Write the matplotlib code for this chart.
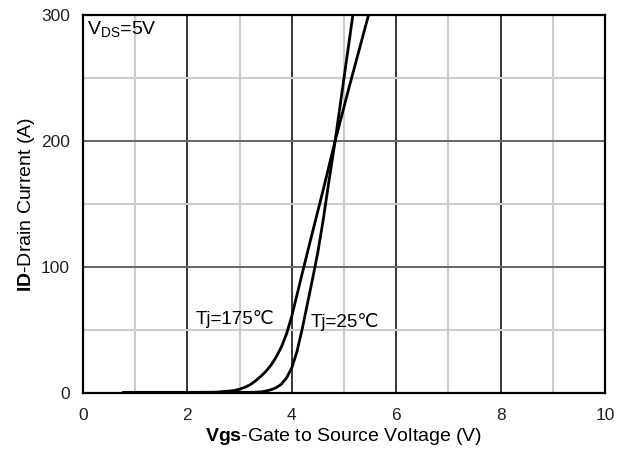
import numpy as np
import matplotlib.pyplot as plt
from matplotlib.ticker import MultipleLocator

plt.rcParams['font.family'] = ['Liberation Sans', 'DejaVu Sans']
plt.rcParams['mathtext.fontset'] = 'custom'
plt.rcParams['mathtext.rm'] = 'Liberation Sans'
plt.rcParams['mathtext.bf'] = 'Liberation Sans:bold'

# transfer characteristics, VDS = 5 V
vgs_175 = [0.77, 2.0, 2.5, 2.6, 2.8, 2.9, 3.0, 3.1, 3.2, 3.3, 3.4, 3.5,
           3.6, 3.7, 3.8, 3.9, 4.0, 4.1, 4.2, 4.35, 4.6, 4.83, 5.1, 5.47]
id_175 = [0.5, 0.5, 0.6, 0.8, 1.5, 2, 3, 4.5, 6.5, 9.5, 13, 17,
          22, 28.5, 36.5, 47, 61, 78, 95, 120, 161, 200, 243, 300]

vgs_25 = [0.77, 2.5, 3.2, 3.3, 3.43, 3.5, 3.6, 3.7, 3.8, 3.9, 4.0, 4.1,
          4.2, 4.3, 4.4, 4.5, 4.6, 4.7, 4.83, 5.0, 5.17]
id_25 = [0.5, 0.5, 0.5, 0.6, 1, 1.5, 2.6, 4.2, 7, 12, 20, 33,
         51, 71, 91, 112, 137, 165, 200, 250, 300]

x_ticks = [0, 2, 4, 6, 8, 10]
y_ticks = [0, 100, 200, 300]

fig = plt.figure(figsize=(6.25, 4.51), dpi=100)
ax = fig.add_axes([0.1328, 0.1286, 0.8352, 0.8381])

ax.set_xlim(0, 10)
ax.set_ylim(0, 300)
ax.set_xticks(x_ticks)
ax.set_yticks(y_ticks)
ax.xaxis.set_minor_locator(MultipleLocator(1))
ax.yaxis.set_minor_locator(MultipleLocator(50))

ax.grid(True, which='minor', color='#cccccc', lw=1.5)
ax.grid(True, which='major', axis='x', color='black', lw=1.1)
ax.grid(True, which='major', axis='y', color='#666666', lw=1.4)
ax.set_axisbelow(True)

ax.tick_params(which='both', length=0, labelsize=12.5, labelcolor='#222222')
ax.tick_params(axis='x', pad=10.5)
ax.tick_params(axis='y', pad=9.5)
for s in ax.spines.values():
    s.set_linewidth(1.6)
    s.set_color('black')

ax.plot(vgs_175, id_175, color='black', lw=2.0, solid_capstyle='round')
ax.plot(vgs_25, id_25, color='black', lw=2.0, solid_capstyle='round')

ax.text(2.16, 59, 'Tj=175℃', fontsize=13.5, va='center', ha='left')
ax.text(4.37, 56, 'Tj=25℃', fontsize=13.5, va='center', ha='left')
ax.text(0.08, 288, r'V$_{\rm DS}$=5V', fontsize=14, va='center', ha='left')

ax.set_xlabel(r'$\bf{Vgs}$-Gate to Source Voltage (V)', fontsize=14, labelpad=2.5)
ax.set_ylabel(r'$\bf{ID}$-Drain Current (A)', fontsize=14, labelpad=2.5)

fig.savefig('out.png', dpi=100)
